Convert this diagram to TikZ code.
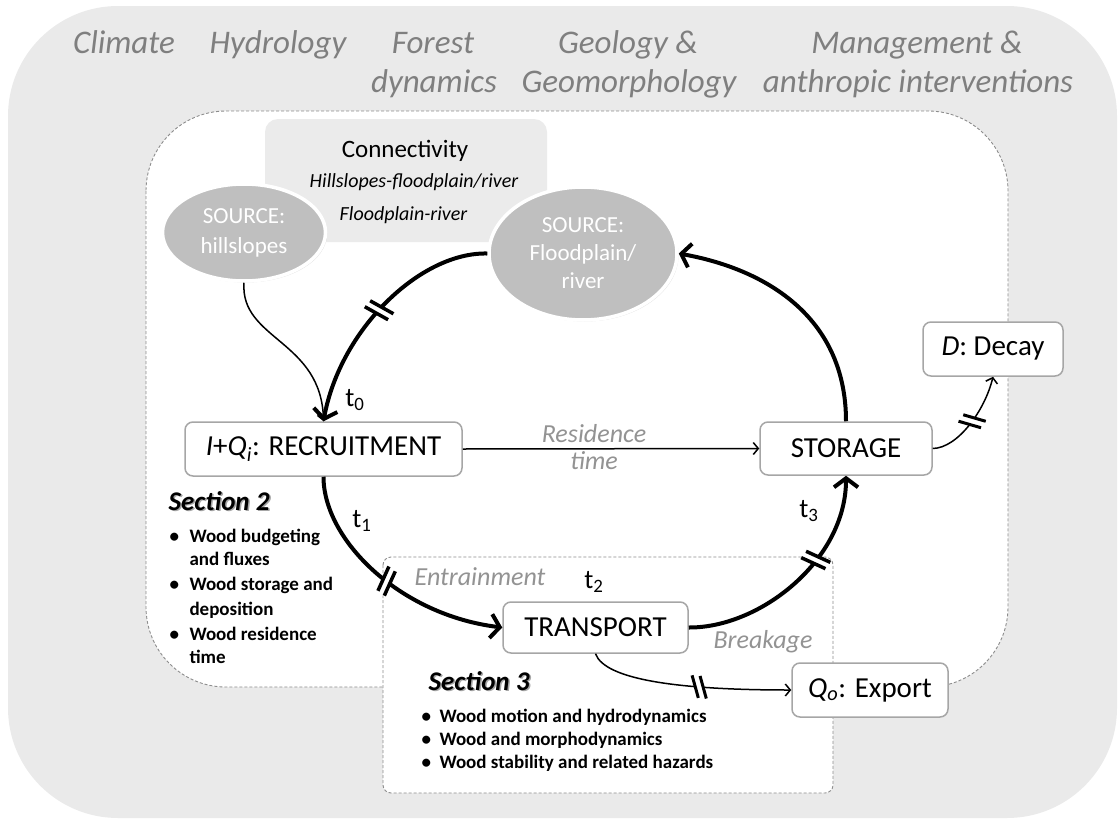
\documentclass[tikz,border=0pt]{standalone}
\usepackage{fontspec}
\setmainfont{Carlito}
\usetikzlibrary{arrows.meta,decorations.markings,shapes.geometric,shadows}
\definecolor{bggray}{HTML}{EAEAEA}
\definecolor{conngray}{HTML}{EBEBEB}
\definecolor{ellgray}{HTML}{BFBFBF}
\definecolor{boxline}{HTML}{A6A6A6}
\definecolor{dashgray}{HTML}{8C8C8C}
\definecolor{toptext}{HTML}{7F7F7F}
\definecolor{lbltext}{HTML}{939393}
\newcommand{\fsz}[2]{\fontsize{#1}{#2}\selectfont}
\begin{document}
\begin{tikzpicture}[x=1pt,y=-1pt,
  dashline/.style={draw=dashgray, line width=0.9pt, dash pattern=on 3pt off 2pt},
  rbox/.style={draw=boxline, line width=1.5pt, rounded corners=8pt, fill=white, inner sep=0pt, font=\fsz{29}{34}},
  src/.style={ellipse, fill=ellgray, draw=white, line width=3.5pt, text=white, align=center, inner sep=0pt,
    drop shadow={shadow xshift=1.5pt, shadow yshift=-1.5pt, opacity=0.25}},
  toplbl/.style={anchor=base, text=toptext, font=\fsz{33}{39}\itshape},
  lbl/.style={text=lbltext, font=\fsz{26}{27}\itshape, align=center},
  tlbl/.style={font=\fsz{27}{30}},
  bul/.style={anchor=base west, font=\fsz{19}{24}\bfseries},
  thk/.style={line width=4pt, -{Straight Barb[length=9pt,width=24pt]}},
  thn/.style={line width=1.5pt, -{Straight Barb[length=5pt,width=12pt]}},
  brkthick/.style={postaction={decorate,decoration={markings,mark=at position #1 with {
     \fill[white] (-7,-14) -- (1,-14) -- (7,14) -- (-1,14) -- cycle;
     \draw[-, line width=3.5pt] (-7,-13) -- (-1,13) (1,-13) -- (7,13);}}}},
  brkthin/.style={postaction={decorate,decoration={markings,mark=at position #1 with {
     \fill[white] (-8,-12) -- (0,-12) -- (8,12) -- (0,12) -- cycle;
     \draw[-, line width=3pt] (-8,-11) -- (0,11) (0,-11) -- (8,11);}}}}
]
\useasboundingbox (0,0) rectangle (1119,819);
% background regions
\fill[bggray, rounded corners=110pt] (8,6) rectangle (1117,818);
\draw[dashline, fill=white, rounded corners=80pt] (146,111) rectangle (1008,687);
\draw[dashline, fill=white, rounded corners=8pt] (383,557) rectangle (833,793);

% top factors
\node[toplbl] (clim) at (124,53) {Climate};
\node[toplbl] (hydr) at (278,53) {Hydrology};
\node[toplbl] (fora) at (433,53) {Forest};
\node[toplbl] (forb) at (434,92) {dynamics};
\node[toplbl] (geoa) at (628,53) {Geology \&};
\node[toplbl] (geob) at (629,92) {Geomorphology};
\node[toplbl] (mana) at (917,53) {Management \&};
\node[toplbl] (manb) at (918,92) {anthropic interventions};

% connectivity
\node[fill=conngray, rounded corners=13pt, minimum width=282pt, minimum height=123pt, inner sep=0pt] (conn) at (406,180.5) {};
\node[anchor=base, font=\fsz{25}{30}] (conna) at (405,157) {Connectivity};
\node[anchor=base, font=\fsz{20}{24}\itshape] (connb) at (414,187) {Hillslopes-floodplain/river};
\node[anchor=base, font=\fsz{20}{24}\itshape] (connc) at (403.5,220) {Floodplain-river};

% sources
\node[src, minimum width=163pt, minimum height=97pt, font=\fsz{23}{30}] (hill) at (244,232.5) {SOURCE:\\hillslopes};
\node[src, minimum width=188pt, minimum height=133pt, font=\fsz{23}{28}] (flood) at (583,253.5) {SOURCE:\\Floodplain/\\river};

% boxes
\node[rbox, minimum width=277pt, minimum height=54pt] (recruit) at (323.5,449) {\textit{I}+\textit{Q}\textsubscript{\textit{i}}: RECRUITMENT};
\node[rbox, minimum width=172pt, minimum height=53pt] (storage) at (846,448.5) {STORAGE};
\node[rbox, minimum width=185pt, minimum height=51pt] (transport) at (595.5,627.5) {TRANSPORT};
\node[rbox, minimum width=140pt, minimum height=54pt] (decay) at (993,349) {\textit{D}: Decay};
\node[rbox, minimum width=156pt, minimum height=54pt] (export) at (870,690) {\textit{Q}\textsubscript{\textit{o}}: Export};

% connectors
\draw[thk, brkthick=0.5] (flood.west) .. controls (420,252) and (340,330) .. (recruit.north);
\draw[thn] (hill.south) .. controls (240,340) and (322,340) .. (recruit.north);
\draw[thk, brkthick=0.5] (recruit.south) .. controls (323.5,540) and (400,615) .. (transport.west);
\draw[thk, brkthick=0.62] (transport.east) .. controls (760,628) and (846,560) .. (storage.south);
\draw[thk] (storage.north) .. controls (846,320) and (770,270) .. (flood.east);
\draw[thn] (recruit.east) -- (storage.west);
\draw[thn, brkthin=0.5] (storage.east) .. controls (958,448) and (985,410) .. (decay.south);
\draw[thn, brkthin=0.55] (transport.south) .. controls (605,680) and (680,690) .. (export.west);

% labels
\node[lbl] (res) at (594,447) {Residence\\time};
\node[lbl] (entr) at (480,577) {Entrainment};
\node[lbl] (brkg) at (763,642) {Breakage};
\node[tlbl] (t0) at (355,400) {t\textsubscript{0}};
\node[tlbl] (t1) at (362,521) {t\textsubscript{1}};
\node[tlbl] (t2) at (594,582) {t\textsubscript{2}};
\node[tlbl] (t3) at (809,511) {t\textsubscript{3}};

% section 2
\node[anchor=base west, text=black!35, font=\fsz{27}{32}\bfseries\itshape] (sec2s) at (166.5,511.5) {Section 2};
\node[anchor=base west, font=\fsz{27}{32}\bfseries\itshape] (sec2) at (165,510) {Section 2};
\node[bul] (b2a) at (166,542) {•};
\node[bul] (s2a) at (186,542) {Wood budgeting};
\node[bul] (s2b) at (186,565) {and fluxes};
\node[bul] (b2c) at (166,590) {•};
\node[bul] (s2c) at (186,590) {Wood storage and};
\node[bul] (s2d) at (186,615) {deposition};
\node[bul] (b2e) at (166,640) {•};
\node[bul] (s2e) at (186,640) {Wood residence};
\node[bul] (s2f) at (186,663) {time};

% section 3
\node[anchor=base west, text=black!35, font=\fsz{27}{32}\bfseries\itshape] (sec3s) at (426.5,691.5) {Section 3};
\node[anchor=base west, font=\fsz{27}{32}\bfseries\itshape] (sec3) at (425,690) {Section 3};
\node[bul] (b3a) at (418,722) {•};
\node[bul] (s3a) at (436,722) {Wood motion and hydrodynamics};
\node[bul] (b3b) at (418,745) {•};
\node[bul] (s3b) at (436,745) {Wood and morphodynamics};
\node[bul] (b3c) at (418,768) {•};
\node[bul] (s3c) at (436,768) {Wood stability and related hazards};
\end{tikzpicture}
\end{document}
